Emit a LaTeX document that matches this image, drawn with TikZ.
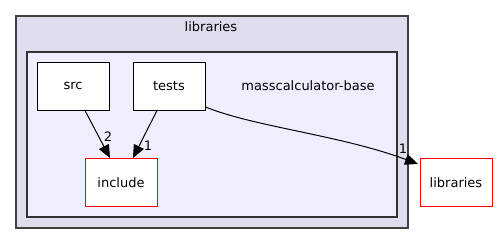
\documentclass[tikz,border=0pt]{standalone}
\usepackage{fontspec}
\setmainfont{DejaVu Sans}
\usetikzlibrary{arrows.meta}
\definecolor{clusterouter}{HTML}{DDDDEE}
\definecolor{clusterinner}{HTML}{EEEEFF}
\definecolor{clusterline}{HTML}{404040}
\tikzset{
  dirbox/.style={draw=black, fill=white, line width=1pt, minimum width=72pt, minimum height=48pt, inner sep=0pt},
  extbox/.style={dirbox, draw=red},
  dep/.style={-{Triangle[length=13pt,width=11pt]}, line width=1pt, black},
  lbl/.style={inner sep=0pt, font=\fontsize{13}{15}\selectfont},
}
\begin{document}
\begin{tikzpicture}[x=1pt, y=-1pt, font=\fontsize{13}{15}\selectfont]
\useasboundingbox (0,0) rectangle (499,244);
% parent directory cluster
\draw[fill=clusterouter, draw=clusterline, line width=1.5pt] (16,16) rectangle (408,228);
\node[lbl] (outerlbl) at (211,27) {libraries};
% current directory cluster
\draw[fill=clusterinner, draw=clusterline!80!black, line width=1.2pt] (27,52) rectangle (397,217);
\node[lbl] (innerlbl) at (308,86) {masscalculator-base};
% directories
\node[dirbox] (src) at (73,86) {src};
\node[dirbox] (tests) at (169,86) {tests};
\node[extbox] (include) at (121,182.5) {include};
\node[extbox] (libs) at (456,182.5) {libraries};
% dependencies
\draw[dep] (src.south -| 85,0) -- (include.north -| 110,0);
\node[lbl] (l1) at (108,137) {2};
\draw[dep] (tests.south -| 157,0) -- (include.north -| 133,0);
\node[lbl] (l2) at (148,146) {1};
\coordinate (tip) at (418,164);
\draw[dep] (tests.east |- 0,107) .. controls (255,127) and (340,135) .. (tip);
\node[lbl] (l3) at (403,149) {1};
\end{tikzpicture}
\end{document}
